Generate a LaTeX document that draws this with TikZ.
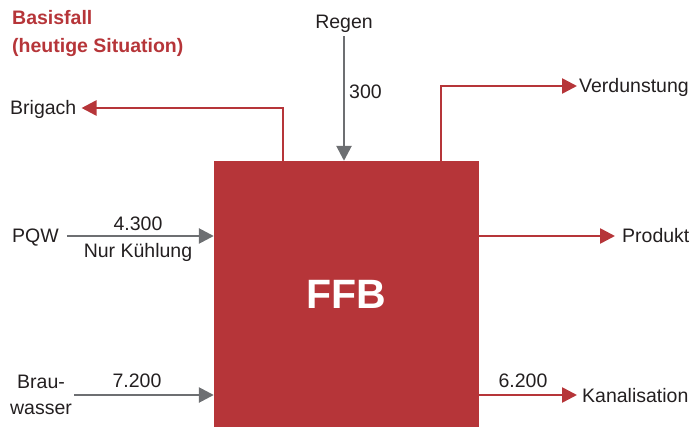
\documentclass[tikz,border=0pt]{standalone}
\usepackage{fontspec}
\setmainfont{Liberation Sans}
\usepackage{xcolor}
\definecolor{ffbred}{RGB}{182,53,57}
\definecolor{flowgray}{RGB}{109,111,114}
\definecolor{txtdark}{RGB}{35,31,32}
\usepackage{tikz}
\usetikzlibrary{arrows.meta, positioning}

\tikzset{
  txt/.style={font=\fontsize{19.5}{26}\selectfont, text=txtdark, inner sep=2pt},
  lbl/.style={txt, text height=14pt, text depth=0pt},
  outflow/.style={draw=ffbred, line width=2.6pt, -{Triangle[length=15pt,width=15pt]}},
  inflow/.style={draw=flowgray, line width=2.6pt, -{Triangle[length=15pt,width=15pt]}},
}

\begin{document}
\begin{tikzpicture}[x=1pt,y=-1pt]
  \useasboundingbox (0,0) rectangle (693,427);

  % process block
  \node[fill=ffbred, minimum width=265pt, minimum height=266pt, inner sep=0pt, text=white, font=\fontsize{41}{44}\selectfont\bfseries] (ffb) at (346.5,294) {\raisebox{-3.5pt}{FFB}};

  % title
  \node[txt, anchor=north west, text=ffbred, font=\fontsize{19.5}{28}\selectfont\bfseries, align=left] (titel) at (10,8) {Basisfall\\(heutige Situation)};

  % top
  \node[lbl] (regen) at (344,22) {Regen};
  \node[lbl, anchor=west] (regenmenge) at (347,92) {300};
  \draw[inflow, shorten <=5pt] (regen.south) -- (regen.south |- ffb.north);

  \node[lbl, anchor=west] (brigach) at (8,108) {Brigach};
  \draw[outflow] ([xshift=69pt]ffb.north west) |- ([xshift=3pt]brigach.east);

  \node[lbl, anchor=west] (verdunstung) at (577,86) {Verdunstung};
  \draw[outflow] ([xshift=227pt]ffb.north west) |- (verdunstung.west);

  % left
  \node[lbl, anchor=west] (pqw) at (10,236) {PQW};
  \node[lbl] (pqwmenge) at (138,224) {4.300};
  \node[lbl] (pqwart) at (138,251) {Nur Kühlung};
  \draw[inflow] ([xshift=6pt]pqw.east) -- (pqw.east -| ffb.west);

  \node[txt, align=center] (brauwasser) at (41,395) {Brau-\\wasser};
  \node[lbl] (brauwassermenge) at (137,380) {7.200};
  \draw[inflow] (brauwasser.east) -- (brauwasser.east -| ffb.west);

  % right
  \node[lbl, anchor=west, xshift=5pt] (produkt) at (615,236) {Produkt};
  \draw[outflow] (produkt.west -| ffb.east) -- ([xshift=-5pt]produkt.west);

  \node[lbl, anchor=west, xshift=3pt] (kanalisation) at (577,395) {Kanalisation};
  \node[lbl] (kanalmenge) at (523,380) {6.200};
  \draw[outflow] (kanalisation.west -| ffb.east) -- ([xshift=-3pt]kanalisation.west);
\end{tikzpicture}
\end{document}
